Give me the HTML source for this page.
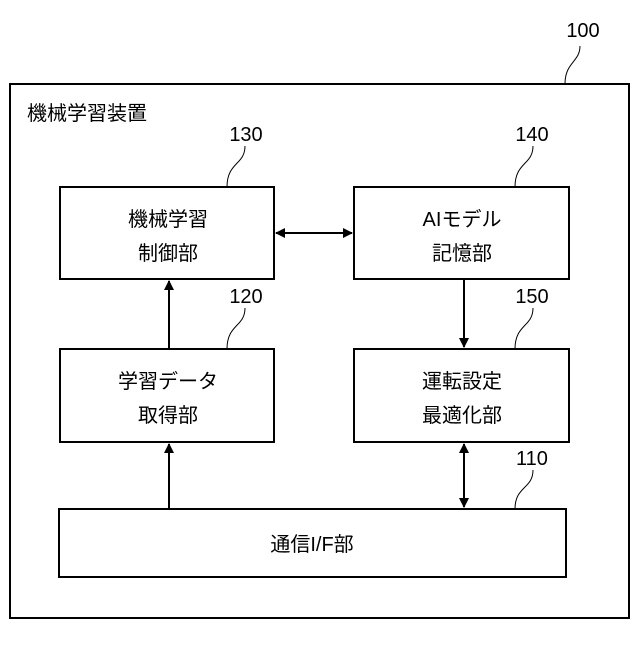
<!DOCTYPE html>
<html><head><meta charset="utf-8"><style>
body{margin:0;background:#fff}
svg text{font-family:"Liberation Sans","Noto Sans CJK JP",sans-serif;fill:#000}
</style></head><body>
<svg width="640" height="640" viewBox="0 0 640 640" xmlns="http://www.w3.org/2000/svg">
<defs><marker id="a" markerWidth="10" markerHeight="10" refX="9" refY="5" orient="auto" markerUnits="userSpaceOnUse"><path d="M0,0 L10,5 L0,10 z" fill="#000"/></marker></defs>
<g fill="none" stroke="#000" stroke-width="2">
<rect x="10" y="84" width="619" height="534"/>
<rect x="60" y="187" width="214" height="92"/>
<rect x="354" y="187" width="215" height="92"/>
<rect x="60" y="349" width="214" height="93"/>
<rect x="354" y="349" width="215" height="93"/>
<rect x="59" y="509" width="507" height="68"/>
<line x1="169" y1="509" x2="169" y2="444" marker-end="url(#a)"/>
<line x1="169" y1="349" x2="169" y2="281" marker-end="url(#a)"/>
<line x1="464" y1="279" x2="464" y2="347" marker-end="url(#a)"/>
<line x1="464" y1="475" x2="464" y2="507" marker-end="url(#a)"/>
<line x1="464" y1="475" x2="464" y2="444" marker-end="url(#a)"/>
<line x1="314" y1="233" x2="276" y2="233" marker-end="url(#a)"/>
<line x1="314" y1="233" x2="352" y2="233" marker-end="url(#a)"/>
</g>
<g fill="none" stroke="#000" stroke-width="1">
<path d="M580,46 C580,62 565,62 565,84"/>
<path d="M245,146 C245,165 227,162 227,187"/>
<path d="M533,146 C533,165 515,162 515,187"/>
<path d="M245,308 C245,327 227,324 227,349"/>
<path d="M533,308 C533,327 515,324 515,349"/>
<path d="M533,470 C533,489 515,486 515,509"/>
</g>
<g font-size="20" text-anchor="middle">
<text x="583" y="37">100</text>
<text x="246" y="141">130</text>
<text x="532" y="141">140</text>
<text x="246" y="303">120</text>
<text x="532" y="303">150</text>
<text x="532" y="465">110</text>
<text x="27" y="120" text-anchor="start">機械学習装置</text>
<text x="168" y="226">機械学習</text>
<text x="168" y="260">制御部</text>
<text x="462" y="226">AIモデル</text>
<text x="462" y="260">記憶部</text>
<text x="168" y="388">学習データ</text>
<text x="168" y="422">取得部</text>
<text x="462" y="388">運転設定</text>
<text x="462" y="422">最適化部</text>
<text x="312" y="551">通信I/F部</text>
</g>
</svg>
</body></html>
